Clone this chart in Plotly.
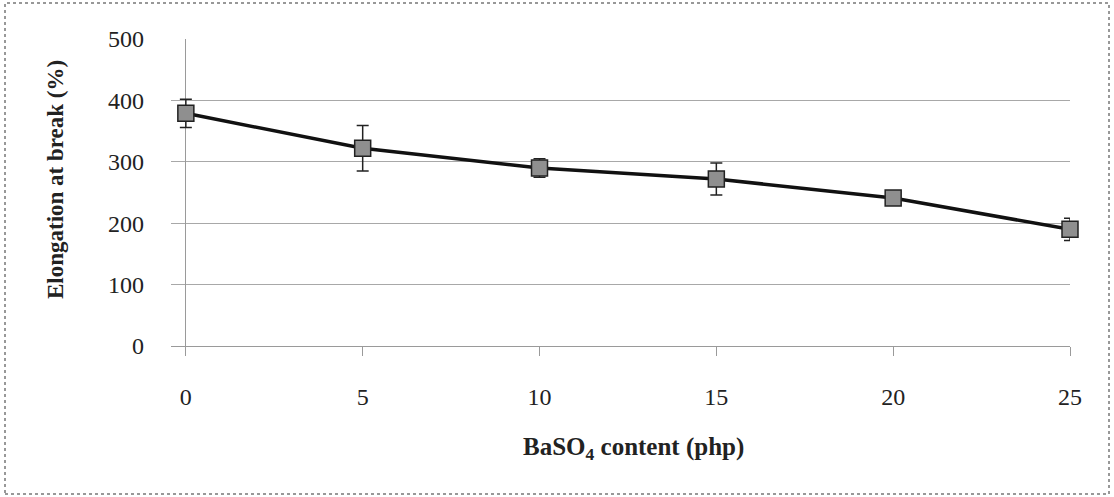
import plotly.graph_objects as go

content = [0, 5, 10, 15, 20, 25]
elongation = [379, 322, 290, 272, 241, 190]
error = [23, 37, 15, 26, 5, 18]
y_ticks = [0, 100, 200, 300, 400, 500]
x_ticks = [0, 5, 10, 15, 20, 25]

FONT = "Liberation Serif"

fig = go.Figure()
fig.add_trace(go.Scatter(
    x=content, y=elongation,
    mode="lines+markers",
    cliponaxis=False,
    line=dict(color="#111111", width=3.5),
    marker=dict(symbol="square", size=16, color="#8f8f8f",
                line=dict(color="#222222", width=1.5)),
    error_y=dict(type="data", array=error, visible=True,
                 color="#222222", thickness=1.5, width=6),
    showlegend=False,
))

W, H = 1114, 497
L, R, T, B = 171, 44, 39, 151
pw = W - L - R
ph = H - T - B

def px2paper_x(px):
    return (px - L) / pw

def px2paper_y(py):
    return (H - B - py) / ph

fig.update_layout(
    width=W, height=H,
    margin=dict(l=L, r=R, t=T, b=B),
    paper_bgcolor="white", plot_bgcolor="white",
    font=dict(family=FONT, color="#222222", size=24),
    xaxis=dict(
        range=[-0.42, 25], tickvals=x_ticks, ticktext=[str(v) for v in x_ticks],
        showgrid=False, zeroline=True, zerolinecolor="#9a9a9a", zerolinewidth=1.2,
        showline=False, ticks="outside", ticklen=9, tickcolor="#9a9a9a",
        ticklabelstandoff=20, tickfont=dict(size=24, family=FONT),
    ),
    yaxis=dict(
        range=[0, 500], tickvals=y_ticks, ticktext=[str(v) for v in y_ticks],
        showgrid=True, gridcolor="#a8a8a8", gridwidth=1,
        zeroline=True, zerolinecolor="#9a9a9a", zerolinewidth=1.2,
        showline=False, ticks="", ticklabelstandoff=26,
        tickfont=dict(size=24, family=FONT),
    ),
    annotations=[
        dict(text="<b>BaSO<sub>4</sub> content (php)</b>", xref="paper", yref="paper",
             x=px2paper_x(633), y=px2paper_y(448), showarrow=False,
             xanchor="center", yanchor="middle", font=dict(size=25, family=FONT)),
        dict(text="<b>Elongation at break (%)</b>", xref="paper", yref="paper",
             x=px2paper_x(55), y=px2paper_y(180), showarrow=False, textangle=-90,
             xanchor="center", yanchor="middle", font=dict(size=23, family=FONT)),
    ],
    shapes=[
        dict(type="rect", xref="paper", yref="paper",
             x0=px2paper_x(5), x1=px2paper_x(1109),
             y0=px2paper_y(494), y1=px2paper_y(3),
             line=dict(color="#777777", width=1.5, dash="dot"), layer="below"),
    ],
)

fig.write_html("out.html")
